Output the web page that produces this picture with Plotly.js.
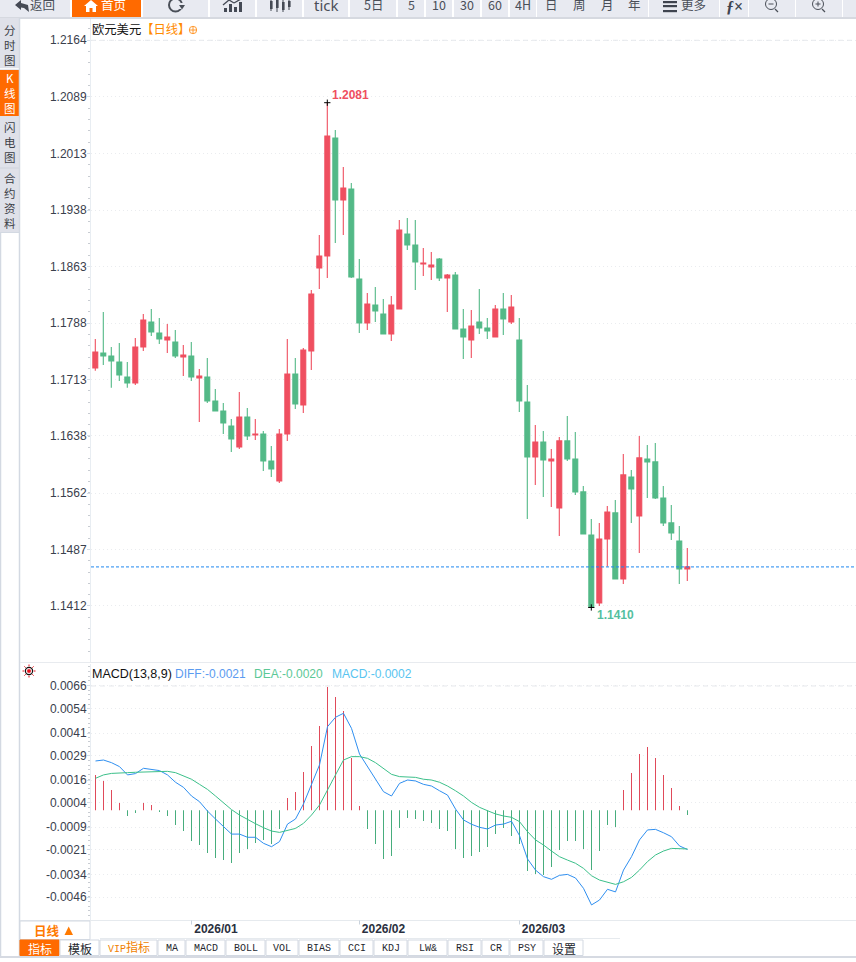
<!DOCTYPE html>
<html><head><meta charset="utf-8">
<script src="https://cdn.plot.ly/plotly-3.0.1.min.js"></script>
<style>html,body{margin:0;padding:0;background:#fff;overflow:hidden}#c{width:856px;height:962px}</style>
</head><body><div id="c"></div>
<script>
// ---------- chart data ----------
const open=[1.17283,1.17483,1.17443,1.17363,1.17164,1.17084,1.17562,1.17895,1.17748,1.17655,1.17629,1.17429,1.17443,1.17150,1.17164,1.16845,1.16712,1.16512,1.16233,1.16632,1.16393,1.16406,1.16047,1.15781,1.16406,1.17203,1.16791,1.17510,1.18613,1.18772,1.20341,1.19517,1.19663,1.18467,1.17882,1.18121,1.18001,1.17736,1.18068,1.19065,1.18919,1.18666,1.18626,1.18732,1.18480,1.18520,1.17802,1.17656,1.17895,1.17815,1.17696,1.18068,1.17895,1.17656,1.16832,1.16101,1.16300,1.16048,1.15423,1.16314,1.16074,1.15636,1.15064,1.14160,1.15011,1.15357,1.14479,1.15835,1.15317,1.16074,1.16035,1.15556,1.15224,1.14984,1.14612];
const high=[1.17669,1.18028,1.17562,1.17616,1.17363,1.17682,1.18001,1.18068,1.17948,1.17868,1.17788,1.17589,1.17629,1.17270,1.17416,1.17004,1.16818,1.16605,1.16964,1.16751,1.16605,1.16446,1.16246,1.16472,1.17669,1.17416,1.17549,1.18320,1.19052,1.20810,1.20447,1.19955,1.19743,1.18732,1.18280,1.18360,1.18201,1.18241,1.19251,1.19277,1.19251,1.18879,1.18826,1.18746,1.18533,1.18560,1.18068,1.18055,1.18334,1.17948,1.18121,1.18280,1.18254,1.17949,1.17058,1.16526,1.16447,1.16207,1.16367,1.16646,1.16433,1.15716,1.15277,1.15224,1.15450,1.15529,1.16141,1.15928,1.16380,1.16261,1.16287,1.15716,1.15463,1.15184,1.14891];
const low=[1.17248,1.17323,1.17022,1.17110,1.17022,1.17057,1.17509,1.17709,1.17602,1.17483,1.17416,1.17177,1.17110,1.16565,1.16818,1.16712,1.16406,1.16167,1.16206,1.16326,1.16326,1.15914,1.15834,1.15755,1.16313,1.16738,1.16685,1.17257,1.18334,1.18480,1.18945,1.19052,1.18480,1.17749,1.17789,1.17895,1.17736,1.17642,1.18068,1.18852,1.18320,1.18507,1.18453,1.18440,1.18028,1.17802,1.17403,1.17416,1.17736,1.17669,1.17696,1.17722,1.17868,1.16699,1.15277,1.15729,1.15569,1.15436,1.15051,1.16048,1.15596,1.15077,1.14100,1.14120,1.14643,1.14479,1.14413,1.15224,1.14825,1.15556,1.15543,1.15184,1.14998,1.14413,1.14453];
const close=[1.17496,1.17443,1.17376,1.17190,1.17084,1.17562,1.17921,1.17762,1.17669,1.17695,1.17443,1.17456,1.17164,1.17177,1.16845,1.16712,1.16552,1.16339,1.16632,1.16379,1.16406,1.16047,1.15941,1.16406,1.17203,1.16805,1.17522,1.18267,1.18772,1.20368,1.19517,1.19676,1.18493,1.17882,1.18134,1.18041,1.17736,1.18121,1.19118,1.18919,1.18693,1.18679,1.18653,1.18480,1.18520,1.17802,1.17696,1.17842,1.17815,1.17775,1.18068,1.17935,1.18094,1.16845,1.16101,1.16300,1.16061,1.16074,1.16314,1.16074,1.15636,1.15077,1.14110,1.15011,1.15370,1.14479,1.15862,1.15676,1.16088,1.16035,1.15556,1.15224,1.15091,1.14612,1.14639];
const macdBars=[.00188,.00156,.00108,.00039,-.00030,-.00014,.00039,.00028,-.00009,-.00030,-.00078,-.00110,-.00163,-.00184,-.00226,-.00253,-.00264,-.00280,-.00226,-.00205,-.00173,-.00157,-.00179,-.00099,.00065,.00097,.00203,.00341,.00448,.00655,.00601,.00527,.00278,.00023,-.00099,-.00179,-.00258,-.00242,-.00094,-.00041,-.00046,-.00057,-.00067,-.00099,-.00110,-.00205,-.00253,-.00242,-.00221,-.00195,-.00126,-.00094,-.00136,-.00179,-.00322,-.00338,-.00343,-.00301,-.00211,-.00163,-.00163,-.00205,-.00317,-.00216,-.00078,-.00088,.00108,.00198,.00299,.00336,.00278,.00188,.00119,.00023,-.00025];
const diff=[.00262,.00267,.00253,.00232,.00188,.00195,.00223,.00218,.00211,.00188,.00149,.00122,.00076,.00046,-.00004,-.00046,-.00087,-.00126,-.00126,-.00143,-.00143,-.00175,-.00193,-.00166,-.00073,-.00046,.00034,.00134,.00241,.00444,.00494,.00515,.00435,.00299,.00232,.00165,.00099,.00076,.00143,.00161,.00156,.00138,.00129,.00104,.00081,.00007,-.00051,-.00074,-.00090,-.00099,-.00078,-.00073,-.00058,-.00134,-.00258,-.00317,-.00352,-.00366,-.00345,-.00340,-.00359,-.00414,-.00502,-.00476,-.00419,-.00433,-.00317,-.00246,-.00157,-.00104,-.00101,-.00119,-.00140,-.00189,-.00208];
const dea=[.00170,.00188,.00196,.00200,.00200,.00202,.00203,.00207,.00209,.00207,.00200,.00184,.00165,.00138,.00111,.00076,.00041,.00004,-.00025,-.00050,-.00071,-.00092,-.00110,-.00117,-.00108,-.00096,-.00069,-.00025,.00028,.00111,.00188,.00267,.00285,.00285,.00276,.00253,.00223,.00191,.00179,.00175,.00175,.00165,.00161,.00149,.00129,.00104,.00076,.00042,.00016,-.00002,-.00019,-.00030,-.00037,-.00060,-.00113,-.00157,-.00184,-.00216,-.00246,-.00264,-.00281,-.00308,-.00347,-.00370,-.00380,-.00393,-.00379,-.00356,-.00317,-.00272,-.00237,-.00216,-.00202,-.00202,-.00205];
const priceTicks=[1.2164,1.2089,1.2013,1.1938,1.1863,1.1788,1.1713,1.1638,1.1562,1.1487,1.1412];
const macdTicks=[0.0066,0.0054,0.0041,0.0029,0.0016,0.0004,-0.0009,-0.0021,-0.0034,-0.0046];
const monthLabels=['2026/01','2026/02','2026/03'];
const monthStarts=[12,33,53];
const monthLabelCentres=[15.05,36,56];
const highLabel='1.2081', lowLabel='1.1410';
// ---------- interface text ----------
const toolLabels=['返回','首页','','','','tick','5日','5','10','30','60','4H','日','周','月','年','更多','','','',''];
const toolLefts=[0,72,143,210,257,304,350,398,426,454,482,510,537,565,593,621,649,720,749,796,843];
const toolRights=[70,141,208,255,302,348,396,424,452,480,508,536,565,593,621,648,719,748,795,842,856];
const sideLabels=['分<br>时<br>图','K<br>线<br>图','闪<br>电<br>图','合<br>约<br>资<br>料'];
const sideTops=[18,70,117,169];
const sideBottoms=[68,116,167,232];
const tabLabels=['指标','模板','<span style="font-size:10px">VIP</span>指标','MA','MACD','BOLL','VOL','BIAS','CCI','KDJ','LW&','RSI','CR','PSY','设置'];
const tabLefts=[20,60,100,158,186,226,266,299,340,374,408,448,482,510,544];
const tabRights=[59,99,157,185,225,265,298,339,373,407,447,481,509,543,583];

const W=856,H=962;
const X=p=>p/W, Y=p=>1-p/H;
const ORANGE='#ff6a00',BTN='#e8eaf1',RED='#ef4f60',GREEN='#53b987',EDGE='#d3d9e2';
const CJK='"Noto Sans CJK SC",sans-serif', ARIAL='"Liberation Sans",Arial,sans-serif', MONO='"Liberation Mono","Noto Sans CJK SC",monospace';
const shapes=[],ann=[];
function rect(x0,y0,x1,y1,fill,line){shapes.push({type:'rect',xref:'paper',yref:'paper',x0:X(x0),x1:X(x1),y0:Y(y0),y1:Y(y1),fillcolor:fill,line:{width:line?1:0,color:line||fill}});}
function seg(x0,y0,x1,y1,color,w,dash){shapes.push({type:'line',xref:'paper',yref:'paper',x0:X(x0),x1:X(x1),y0:Y(y0),y1:Y(y1),line:{color:color,width:w||1,dash:dash||'solid'}});}
function circ(cx,cy,r,line,fill,w){shapes.push({type:'circle',xref:'paper',yref:'paper',x0:X(cx-r),x1:X(cx+r),y0:Y(cy-r),y1:Y(cy+r),fillcolor:fill||'rgba(0,0,0,0)',line:{color:line,width:w||1}});}
function poly(pts,fill){shapes.push({type:'path',xref:'paper',yref:'paper',path:'M'+pts.map(p=>X(p[0])+','+Y(p[1])).join('L')+'Z',fillcolor:fill,line:{width:0}});}
function txt(x,y,t,size,color,font,anchor,bold){ann.push({xref:'paper',yref:'paper',x:X(x),y:Y(y),text:bold?'<b>'+t+'</b>':t,showarrow:false,xanchor:anchor||'center',yanchor:'middle',font:{size:size,color:color,family:font||CJK},borderpad:0,borderwidth:0});}

// toolbar
toolLabels.forEach((t,i)=>{
  const on=i===1;
  rect(toolLefts[i],-2,toolRights[i],17,on?ORANGE:BTN);
  if(t){
    let cx=(toolLefts[i]+toolRights[i])/2;
    if(i===0)cx=42; if(i===1)cx=113; if(i===16)cx=693;
    txt(cx,5,t,t==='tick'?15:12.5,on?'#fff':'#4a4f58',i===5?'"Noto Sans",sans-serif':CJK);
  }
});
seg(0,18,W,18,'#c9cdd6',1.5);
// back arrow
poly([[15,5],[21,0],[21,3],[28,5],[29,12],[24,8],[21,7.5],[21,10]],'#454a55');
// home
poly([[84,6],[91,0],[98,6],[96,6],[96,12],[92.5,12],[92.5,8],[89.5,8],[89.5,12],[86,12],[86,6]],'#fff');
// refresh
circ(175.5,5,6.5,'#4a4f58',null,2);
rect(178,3,185,9,BTN);
poly([[179,5],[185,5],[182,9.5]],'#4a4f58');
// line chart icon
[[224,8],[229,4],[234,7],[239,2]].forEach(b=>rect(b[0],b[1],b[0]+3,12,'#454a55'));
seg(223,5,229,0,'#454a55',1.3);seg(229,0,234,3,'#454a55',1.3);seg(234,3,241,-1,'#454a55',1.3);
// candle icon
[[270,1,9,0,11],[276,0,8,-1,12],[282,2,10,0,12],[288,1,7,0,10]].forEach(b=>{seg(b[0]+1,b[3],b[0]+1,b[4],'#454a55',1);rect(b[0],b[1],b[0]+2.6,b[2],'#454a55');});
// more
[1,5,10].forEach(y=>rect(663,y,677,y+2.2,'#3f444f'));
// fx
txt(734,6,'<i>ƒ</i>×',16,'#3f444f','"Liberation Serif",serif','center',true);
// zoom buttons
circ(771,4,5.5,'#4a4f58');seg(775,9,778,12,'#4a4f58',1.3);seg(768.5,4,773.5,4,'#4a4f58',1);
circ(818,4,5.5,'#4a4f58');seg(822,9,825,12,'#4a4f58',1.3);seg(815.5,4,820.5,4,'#4a4f58',1);seg(818,1.5,818,6.5,'#4a4f58',1);

// side strip
rect(0,18,19,232,'#dfe1e9');
sideLabels.forEach((s,i)=>{
  rect(0,sideTops[i],19,sideBottoms[i],i===1?ORANGE:'#dfe1e9');
  txt(10,(sideTops[i]+sideBottoms[i])/2+(i===0?2:0),s,11.5,i===1?'#fff':'#3c3f47',CJK);
});
seg(0,68.7,19,68.7,'#fff',1);seg(0,168,19,168,'#cfd3dc',1);
seg(19.5,18,19.5,956,EDGE,1.5);seg(0.5,232,0.5,958,EDGE,1.5);seg(0,232.5,19,232.5,EDGE,1);

// pane separator + bottom strip
seg(20,662.5,W,662.5,'#e8ebef',1);
seg(20,920.5,W,920.5,'#e6eaee',1);
seg(100,938.5,620,938.5,'#e6eaee',1);
rect(20,921,90,939.5,'#fff',EDGE);
txt(47,930.5,'日线',12.5,'#ff7a00',CJK,'center',true);
poly([[64.5,935],[73,935],[68.7,926.5]],'#ff7a00');
monthStarts.forEach(i=>shapes.push({type:'line',xref:'x2',yref:'paper',x0:i,x1:i,y0:Y(920.5),y1:Y(924.5),line:{color:'#c9d2dc',width:1}}));
tabLabels.forEach((t,i)=>{
  rect(tabLefts[i],940,tabRights[i],955.5,i===0?ORANGE:'#fff',i===0?ORANGE:EDGE);
  const c=i===0?'#fff':(i===2?'#f07f00':'#24272e');
  const latin=/^[A-Z&]+$/.test(t);
  txt((tabLefts[i]+tabRights[i])/2,948,t,latin?10:12,c,latin||i===2?MONO:CJK);
});
seg(0,957,W,957,'#d6dae2',2);
shapes.push({type:'rect',xref:'paper',yref:'paper',x0:0,x1:1,y0:0,y1:Y(958),fillcolor:'#fff',line:{width:0}});

// top dashed gridlines
shapes.push({type:'line',xref:'paper',yref:'y',x0:X(91),x1:1,y0:priceTicks[0],y1:priceTicks[0],line:{color:'#e6e8ec',width:1,dash:'5px,4px'}});
shapes.push({type:'line',xref:'paper',yref:'y2',x0:X(91),x1:1,y0:macdTicks[0],y1:macdTicks[0],line:{color:'#e6e8ec',width:1,dash:'5px,4px'}});
// last-price line
shapes.push({type:'line',xref:'paper',yref:'y',x0:X(91),x1:1,y0:close[close.length-1],y1:close[close.length-1],line:{color:'#1e88f0',width:1,dash:'3px,2px'}});

// headers
txt(92,29,'欧元美元<span style="color:#ff8a00">【日线】</span>',12.3,'#111',CJK,'left');
circ(193,30,3.7,'#ff9a30');seg(189.3,30,196.7,30,'#ff9a30',1);seg(193,26.3,193,33.7,'#ff9a30',1);
txt(92,673.5,'MACD(13,8,9)',12.5,'#111',ARIAL,'left');
txt(175,673.5,'DIFF:-0.0021',12,'#5b9bf0',ARIAL,'left');
txt(254,673.5,'DEA:-0.0020',12,'#5cc896',ARIAL,'left');
txt(332,673.5,'MACD:-0.0002',12,'#58c4f0',ARIAL,'left');
// indicator badge
circ(29,671,3.6,'#111','#fff',1.2);circ(29,671,1.8,'#e8101c','#e8101c',.5);
[[22.5,671,24.3,671],[33.7,671,35.5,671],[29,664.5,29,666.3],[29,675.7,29,677.5],[24.4,666.4,25.7,667.7],[32.3,674.3,33.6,675.6],[24.4,675.6,25.7,674.3],[32.3,667.7,33.6,666.4]].forEach(s=>seg(s[0],s[1],s[2],s[3],'#e8101c',1));

const idx=close.map((_,i)=>i);
const iHigh=high.indexOf(Math.max(...high)), iLow=low.indexOf(Math.min(...low));
ann.push({xref:'x',yref:'y',x:iHigh,y:high[iHigh],text:'<b>'+highLabel+'</b>',showarrow:false,xanchor:'left',yanchor:'middle',xshift:3,yshift:8,font:{size:12,color:RED,family:ARIAL}});
ann.push({xref:'x',yref:'y',x:iLow,y:low[iLow],text:'<b>'+lowLabel+'</b>',showarrow:false,xanchor:'left',yanchor:'middle',xshift:4,yshift:-8,font:{size:12,color:'#55bfa0',family:ARIAL}});

const traces=[
 {type:'candlestick',x:idx,open:open,high:high,low:low,close:close,xaxis:'x',yaxis:'y',
  increasing:{line:{color:RED,width:1.1},fillcolor:RED},decreasing:{line:{color:GREEN,width:1.1},fillcolor:GREEN},whiskerwidth:0,hoverinfo:'skip',showlegend:false},
 {type:'scatter',mode:'markers',x:[iHigh,iLow],y:[high[iHigh],low[iLow]],xaxis:'x',yaxis:'y',marker:{symbol:'cross-thin',size:4.5,line:{color:'#000',width:1}},hoverinfo:'skip',showlegend:false},
 {type:'bar',x:idx,y:macdBars,xaxis:'x2',yaxis:'y2',width:0.125,marker:{color:macdBars.map(v=>v>=0?'#e04a5a':'#47ad7d'),line:{width:0}},hoverinfo:'skip',showlegend:false},
 {type:'scatter',mode:'lines',x:idx,y:diff,xaxis:'x2',yaxis:'y2',line:{color:'#2f8ff0',width:1},hoverinfo:'skip',showlegend:false},
 {type:'scatter',mode:'lines',x:idx,y:dea,xaxis:'x2',yaxis:'y2',line:{color:'#3cc08a',width:1},hoverinfo:'skip',showlegend:false}
];
const xr=[(91-95.3)/8,(856-95.3)/8];
const xr2=[(91-95.5)/8,(856-95.5)/8];
const yAxisBase={showgrid:true,gridcolor:'#eaecef',griddash:'1px,3px',gridwidth:1,zeroline:false,showline:true,linecolor:'#e8edf2',linewidth:1,ticks:'outside',ticklen:3,tickcolor:'#d5dee8',ticklabelstandoff:-2,tickfont:{size:12,color:'#3a404c',family:ARIAL},tickmode:'array',fixedrange:true,side:'left',anchor:'x'};
const layout={
 width:W,height:H,margin:{l:0,r:0,t:0,b:0,pad:0},paper_bgcolor:'#fff',plot_bgcolor:'rgba(0,0,0,0)',showlegend:false,boxgap:0.125,barmode:'overlay',dragmode:false,
 xaxis:{domain:[X(91),1],range:xr,anchor:'y',showticklabels:false,ticks:'',showgrid:false,zeroline:false,showline:false,rangeslider:{visible:false},fixedrange:true},
 yaxis:Object.assign({},yAxisBase,{domain:[Y(662),Y(18)],range:[1.13375,1.21936],tickvals:priceTicks,ticktext:priceTicks.map(v=>v.toFixed(4)),
   minor:{dtick:.001504,tick0:1.1412,ticks:'outside',ticklen:2,tickcolor:'#c8ccd2',showgrid:false}}),
 xaxis2:{domain:[X(91),1],range:xr2,anchor:'y2',tickmode:'array',tickvals:monthLabelCentres,ticktext:monthLabels,ticks:'',showgrid:false,zeroline:false,showline:false,tickangle:0,tickfont:{size:12,color:'#2a3040',family:ARIAL,weight:'bold'},fixedrange:true},
 yaxis2:Object.assign({},yAxisBase,{anchor:'x2',domain:[Y(920),Y(664)],range:[-.00582,.007766],tickvals:macdTicks,ticktext:macdTicks.map(v=>v.toFixed(4)),
   minor:{dtick:.000249,tick0:.0004,ticks:'outside',ticklen:2,tickcolor:'#c8ccd2',showgrid:false}}),
 shapes:shapes,annotations:ann
};
Plotly.newPlot('c',traces,layout,{displayModeBar:false,staticPlot:true,responsive:false});
</script></body></html>
